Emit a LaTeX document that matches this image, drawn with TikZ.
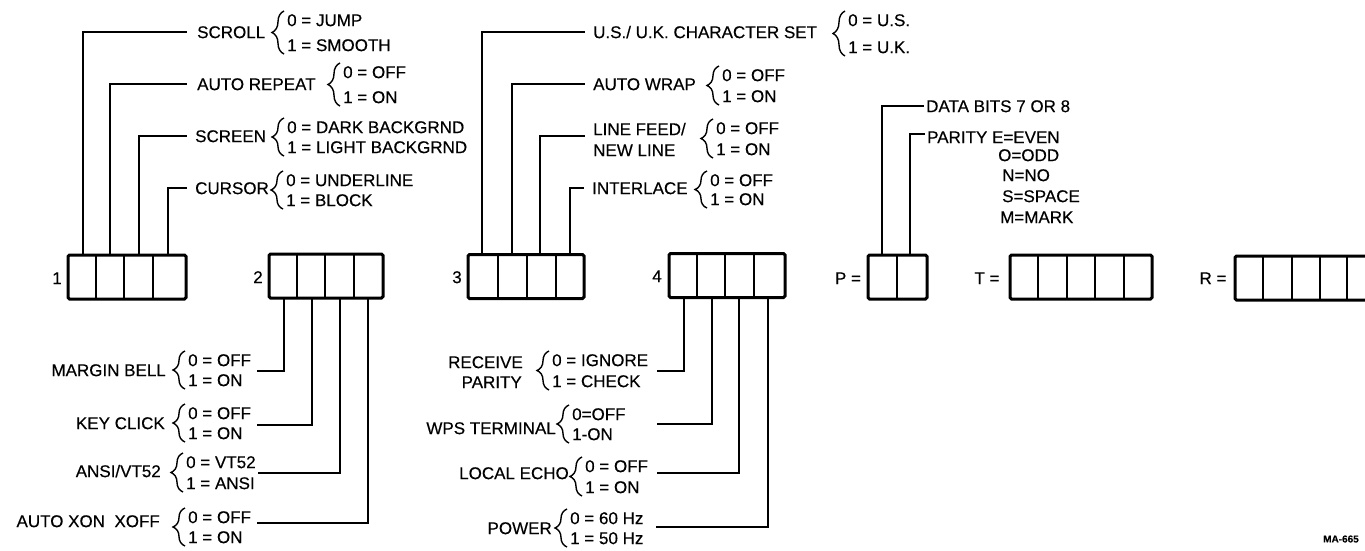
\documentclass[tikz,border=0pt]{standalone}
\usepackage{fontspec}
\setmainfont{Liberation Sans}[FakeBold=0.35]
\usetikzlibrary{decorations.pathreplacing}
\newcommand{\optpair}[6]{%
  \node[lbl,anchor=west] (#1a) at (#2,#3) {#5};
  \node[lbl,anchor=west] (#1b) at (#2,#4) {#6};
  \draw[brc] ([xshift=-3pt,yshift=-9pt]#1b.west) -- ([xshift=-3pt,yshift=9pt]#1a.west);
}
\begin{document}
\begin{tikzpicture}[x=1pt,y=-1pt,
  lbl/.style={inner sep=0pt,text height=12.2pt,text depth=0pt,font=\fontsize{17}{20}\selectfont},
  wire/.style={line width=1.6pt},
  brc/.style={line width=1.4pt,decorate,decoration={brace,amplitude=12pt,aspect=0.5}},
  boxo/.style={draw,line width=3pt,rounded corners=1.5pt,inner sep=0pt,minimum height=44pt},
  div/.style={line width=1.6pt},
  tag/.style={lbl,anchor=center},
  figid/.style={inner sep=0pt,font=\fontsize{10}{12}\selectfont\bfseries}]
\useasboundingbox (0,0) rectangle (1365,551);
\clip (0,0) rectangle (1365,551);

% ---------------- box 1 ----------------
\node[boxo,minimum width=118pt] (box1) at (127,277) {};
\draw[div] (96,255) -- (96,299) (124,255) -- (124,299) (153,255) -- (153,299);
\node[tag] (n1) at (57,278) {1};
\coordinate (b1a) at (83,255);
\coordinate (b1b) at (110,255);
\coordinate (b1c) at (139,255);
\coordinate (b1d) at (168,255);

\node[lbl,anchor=west] (scroll) at (197,32) {SCROLL};
\optpair{scr}{287}{20}{45}{0 = JUMP}{1 = SMOOTH}
\node[lbl,anchor=west] (autorep) at (197,84) {AUTO REPEAT};
\optpair{arp}{343}{72}{97}{0 = OFF}{1 = ON}
\node[lbl,anchor=west] (screen) at (195,136) {SCREEN};
\optpair{scn}{287}{127}{147}{0 = DARK BACKGRND}{1 = LIGHT BACKGRND}
\node[lbl,anchor=west] (cursor) at (195,188) {CURSOR};
\optpair{cur}{286}{180}{200}{0 = UNDERLINE}{1 = BLOCK}

\draw[wire] (b1a) |- ([xshift=-10pt]scroll.west);
\draw[wire] (b1b) |- ([xshift=-10pt]autorep.west);
\draw[wire] (b1c) |- ([xshift=-8pt]screen.west);
\draw[wire] (b1d) |- ([xshift=-8pt]cursor.west);

% ---------------- box 2 ----------------
\node[boxo,minimum width=114pt] (box2) at (326,276) {};
\draw[div] (297,254) -- (297,298) (325,254) -- (325,298) (354,254) -- (354,298);
\node[tag] (n2) at (258,277) {2};
\coordinate (b2a) at (284,298);
\coordinate (b2b) at (312,298);
\coordinate (b2c) at (340,298);
\coordinate (b2d) at (368,298);

\node[lbl,anchor=east] (mbell) at (166,370) {MARGIN BELL};
\optpair{mbo}{188}{360}{380}{0 = OFF}{1 = ON}
\node[lbl,anchor=east] (kclick) at (165,423) {KEY CLICK};
\optpair{kco}{188}{413}{433}{0 = OFF}{1 = ON}
\node[lbl,anchor=east] (ansi) at (161,471) {ANSI/VT52};
\optpair{ano}{186}{462}{483}{0 = VT52}{1 = ANSI}
\node[lbl,anchor=east] (xon) at (160,521) {AUTO XON\ \ XOFF};
\optpair{xoo}{188}{517}{537}{0 = OFF}{1 = ON}

\coordinate (mbL) at (257,371);
\coordinate (kcL) at (257,425);
\coordinate (anL) at (258,473);
\coordinate (xoL) at (257,523);
\draw[wire] (b2a) |- (mbL);
\draw[wire] (b2b) |- (kcL);
\draw[wire] (b2c) |- (anL);
\draw[wire] (b2d) |- (xoL);

% ---------------- box 3 ----------------
\node[boxo,minimum width=116pt] (box3) at (526,276.5) {};
\draw[div] (498,254.5) -- (498,298.5) (527,254.5) -- (527,298.5) (556,254.5) -- (556,298.5);
\node[tag] (n3) at (457,277) {3};
\coordinate (b3a) at (482,254.5);
\coordinate (b3b) at (512,254.5);
\coordinate (b3c) at (540,254.5);
\coordinate (b3d) at (570,254.5);

\node[lbl,anchor=west] (usuk) at (593,32) {U.S./ U.K. CHARACTER SET};
\optpair{uko}{848}{20}{47}{0 = U.S.}{1 = U.K.}
\node[lbl,anchor=west] (awrap) at (593,84) {AUTO WRAP};
\optpair{awo}{722}{75}{96}{0 = OFF}{1 = ON}
\node[lbl,anchor=west] (lf1) at (593,129) {LINE FEED/};
\node[lbl,anchor=west] (lf2) at (593,150) {NEW LINE};
\optpair{lfo}{716}{128}{149}{0 = OFF}{1 = ON}
\node[lbl,anchor=west] (ilace) at (592,188) {INTERLACE};
\optpair{ilo}{710}{180}{199}{0 = OFF}{1 = ON}

\coordinate (lfL) at (585,136);
\draw[wire] (b3a) |- ([xshift=-8pt]usuk.west);
\draw[wire] (b3b) |- ([xshift=-8pt]awrap.west);
\draw[wire] (b3c) |- (lfL);
\draw[wire] (b3d) |- ([xshift=-8pt]ilace.west);

% ---------------- box 4 ----------------
\node[boxo,minimum width=116pt] (box4) at (727,275.5) {};
\draw[div] (697,253.5) -- (697,297.5) (725,253.5) -- (725,297.5) (754,253.5) -- (754,297.5);
\node[tag] (n4) at (657,276) {4};
\coordinate (b4a) at (684,297.5);
\coordinate (b4b) at (712,297.5);
\coordinate (b4c) at (739,297.5);
\coordinate (b4d) at (768,297.5);

\node[lbl,anchor=east] (rcv1) at (523,362) {RECEIVE};
\node[lbl,anchor=east] (rcv2) at (522,382) {PARITY};
\optpair{rco}{552}{360}{381}{0 = IGNORE}{1 = CHECK}
\node[lbl,anchor=east] (wps) at (556,428) {WPS TERMINAL};
\optpair{wpo}{572}{414}{434}{0=OFF}{1-ON}
\node[lbl,anchor=east] (lecho) at (569,473) {LOCAL ECHO};
\optpair{leo}{585}{466}{487}{0 = OFF}{1 = ON}
\node[lbl,anchor=east] (power) at (552,528) {POWER};
\optpair{pwo}{570}{518}{538}{0 = 60 Hz}{1 = 50 Hz}

\coordinate (rcL) at (657,371);
\coordinate (wpL) at (657,424);
\coordinate (leL) at (657,473);
\coordinate (pwL) at (656,527);
\draw[wire] (b4a) |- (rcL);
\draw[wire] (b4b) |- (wpL);
\draw[wire] (b4c) |- (leL);
\draw[wire] (b4d) |- (pwL);

% ---------------- P box ----------------
\node[boxo,minimum width=59pt] (boxp) at (897.5,277) {};
\draw[div] (897,255) -- (897,299);
\node[tag] (np) at (848,278) {P =};
\coordinate (bpa) at (882,255);
\coordinate (bpb) at (910,255);
\node[lbl,anchor=west] (dbits) at (926,106) {DATA BITS 7 OR 8};
\node[lbl,anchor=west] (par) at (927,137) {PARITY E=EVEN};
\node[lbl,anchor=west] (podd) at (998,155) {O=ODD};
\node[lbl,anchor=west] (pno) at (1002,175) {N=NO};
\node[lbl,anchor=west] (psp) at (1002,196) {S=SPACE};
\node[lbl,anchor=west] (pmk) at (1000,217) {M=MARK};
\coordinate (parL) at (925,134);
\draw[wire] (bpa) |- ([xshift=-2pt]dbits.west);
\draw[wire] (bpb) |- (parL);

% ---------------- T box ----------------
\node[boxo,minimum width=142pt] (boxt) at (1081,277) {};
\draw[div] (1038,255) -- (1038,299) (1067,255) -- (1067,299) (1095,255) -- (1095,299) (1124,255) -- (1124,299);
\node[tag] (nt) at (987,278) {T =};

% ---------------- R box ----------------
\node[boxo,minimum width=142pt] (boxr) at (1306,278) {};
\draw[div] (1263,256) -- (1263,300) (1292,256) -- (1292,300) (1320,256) -- (1320,300) (1347,256) -- (1347,300);
\node[tag] (nr) at (1213,278) {R =};

\node[figid,anchor=west] (ma) at (1323,539) {MA-665};
\end{tikzpicture}
\end{document}
